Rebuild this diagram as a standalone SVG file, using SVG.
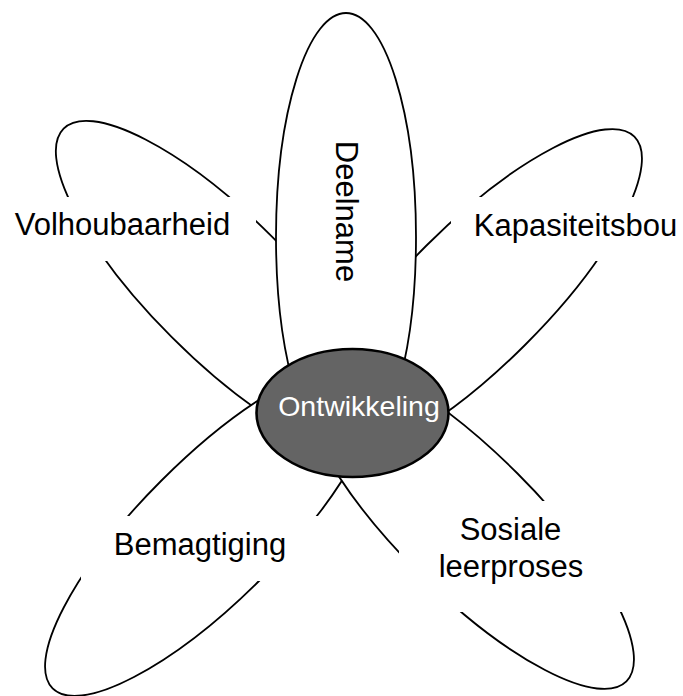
<svg xmlns="http://www.w3.org/2000/svg" width="683" height="696" viewBox="0 0 683 696">
<style>
.petal{fill:#fff;stroke:#000;stroke-width:1.8}
.mask{fill:#fff;stroke:none}
.lbl{font-family:"Liberation Sans",Arial,sans-serif;font-size:31px;fill:#000;text-anchor:middle}
.core{fill:#646464;stroke:#000;stroke-width:2.6}
.corelbl{font-family:"Liberation Sans",Arial,sans-serif;font-size:28.5px;fill:#fff;text-anchor:middle}
</style>
<rect width="683" height="696" fill="#fff"/>
<g id="volhoubaarheid">
  <ellipse class="petal" cx="222" cy="287" rx="224" ry="71" transform="rotate(45 222 287)"/>
  <rect class="mask" x="0" y="197" width="256" height="64"/>
  <text class="lbl" x="122.5" y="235">Volhoubaarheid</text>
</g>
<g id="kapasiteitsbou">
  <ellipse class="petal" cx="476" cy="295" rx="224" ry="70" transform="rotate(-45 476 295)"/>
  <rect class="mask" x="451" y="197" width="232" height="64"/>
  <text class="lbl" x="575.5" y="236">Kapasiteitsbou</text>
</g>
<g id="bemagtiging">
  <ellipse class="petal" cx="211" cy="530" rx="224" ry="70" transform="rotate(-45 211 530)"/>
  <rect class="mask" x="81" y="516" width="239" height="65"/>
  <text class="lbl" x="200" y="555">Bemagtiging</text>
</g>
<g id="sosiale-leerproses">
  <ellipse class="petal" cx="468" cy="523" rx="224" ry="70" transform="rotate(45 468 523)"/>
  <rect class="mask" x="399" y="501" width="241" height="111"/>
  <text class="lbl" x="510.5" y="540">Sosiale</text>
  <text class="lbl" x="511" y="577">leerproses</text>
</g>
<g id="deelname">
  <ellipse class="petal" cx="346" cy="237" rx="70" ry="224"/>
  <text class="lbl" transform="translate(336 211.5) rotate(90)">Deelname</text>
</g>
<g id="ontwikkeling">
  <ellipse class="core" cx="352.5" cy="413" rx="96" ry="64"/>
  <text class="corelbl" x="359" y="416">Ontwikkeling</text>
</g>
</svg>
